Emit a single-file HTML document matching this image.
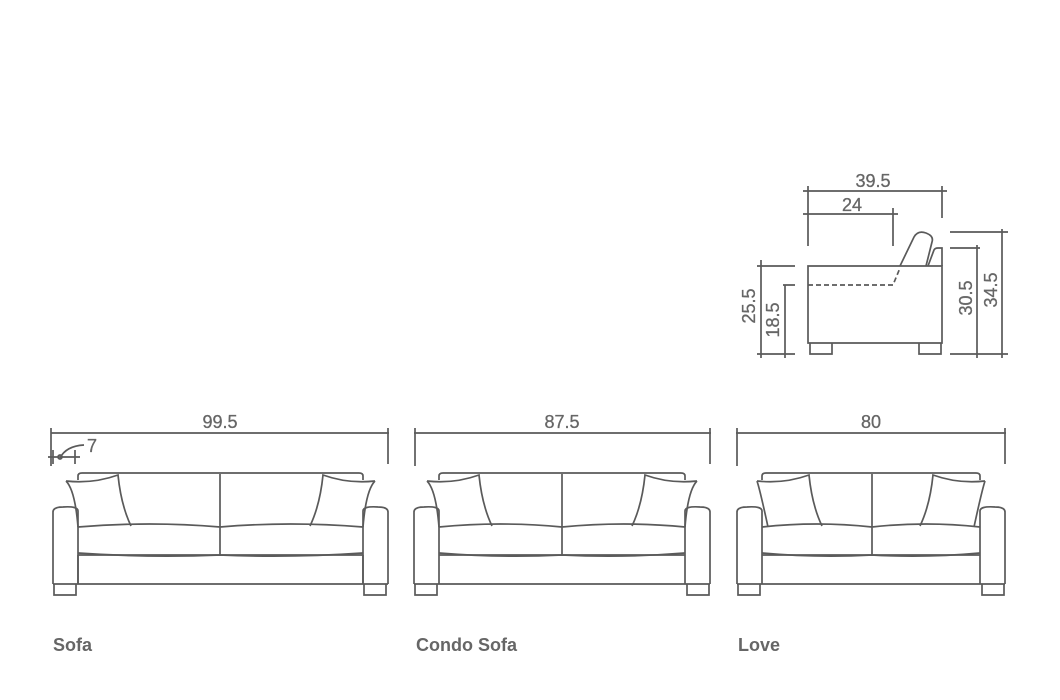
<!DOCTYPE html><html><head><style>body{margin:0;background:#fff}svg{display:block}text{font-family:"Liberation Sans",sans-serif;fill:#666}</style></head><body>
<svg width="1060" height="700" viewBox="0 0 1060 700" xmlns="http://www.w3.org/2000/svg">
<g fill="none" stroke="#5a5a5a" stroke-width="1.7">
<path d="M51 433H389M51 428V466M388 428V464"/>
<path d="M48 457H80M53 450V464M75 450V464M60 458Q66 446 84 445"/>
<circle cx="60" cy="457" r="2"/>
<path d="M53 584V512Q53 507 63 507Q78 506 78 511V584M388 584V512Q388 507 378 507Q363 506 363 511V584"/>
<path d="M78 480V476Q78 473 82 473H359Q363 473 363 476V480"/>
<path d="M78 555H363M53 584H388M78 584V555M363 584V555"/>
<path d="M78 527Q150 521 220 527Q290 521 363 527M78 553Q150 558 220 555Q290 558 363 553M220 474V555"/>
<path d="M66 481Q93 484 118 475Q121 505 131 526M66 481Q75 490 78 527"/>
<path d="M375 481Q348 484 323 475Q320 505 310 526M375 481Q366 490 363 527"/>
<path d="M54 584V595H76V584M364 584V595H386V584"/>
<path d="M414 433H711M415 428V466M710 428V464"/>
<path d="M414 584V512Q414 507 424 507Q439 506 439 511V584M710 584V512Q710 507 700 507Q685 506 685 511V584"/>
<path d="M439 480V476Q439 473 443 473H681Q685 473 685 476V480"/>
<path d="M439 555H685M414 584H710"/>
<path d="M439 527Q500 521 562 527Q624 521 685 527M439 553Q500 558 562 555Q624 558 685 553M562 474V555"/>
<path d="M427 481Q454 484 479 475Q482 505 492 526M427 481Q436 490 439 527"/>
<path d="M697 481Q670 484 645 475Q642 505 632 526M697 481Q688 490 685 527"/>
<path d="M415 584V595H437V584M687 584V595H709V584"/>
<path d="M736 433H1006M737 428V466M1005 428V464"/>
<path d="M737 584V512Q737 507 747 507Q762 506 762 511V584M1005 584V512Q1005 507 995 507Q980 506 980 511V584"/>
<path d="M762 480V476Q762 473 766 473H976Q980 473 980 476V480"/>
<path d="M762 555H980M737 584H1005"/>
<path d="M762 527Q817 521 872 527Q926 521 980 527M762 553Q817 558 872 555Q926 558 980 553M872 474V555"/>
<path d="M757 481Q784 484 809 475Q812 505 822 526M757 481Q760 490 768 527"/>
<path d="M985 481Q958 484 933 475Q930 505 920 526M985 481Q982 490 974 527"/>
<path d="M738 584V595H760V584M982 584V595H1004V584"/>
<path d="M808 266H942V343H808Z"/>
<path d="M808 285H893L900 268" stroke-dasharray="5 3"/>
<path d="M900 266L914 237Q918 230 926 233Q934 236 932 242L926 266"/>
<path d="M928 266L934 250Q935 248 938 248H942V266"/>
<path d="M810 343V354H832V343M919 343V354H941V343"/>
<path d="M803 191H947M808 186V246M942 186V218"/>
<path d="M803 214H898M893 208V246"/>
<path d="M757 266H795M761 260V358M757 354H795M783 285H795M785 285V358"/>
<path d="M950 232H1008M1002 229V358M950 248H980M977 245V358M950 354H1008"/>
</g>
<g font-size="18" text-anchor="middle" style="font-weight:500" stroke="#666" stroke-width="0.3">
<text x="220" y="428">99.5</text>
<text x="562" y="428">87.5</text>
<text x="871" y="428">80</text>
<text x="873" y="187">39.5</text>
<text x="852" y="211">24</text>
<text transform="translate(755 306) rotate(-90)">25.5</text>
<text transform="translate(779 320) rotate(-90)">18.5</text>
<text transform="translate(972 298) rotate(-90)">30.5</text>
<text transform="translate(997 290) rotate(-90)">34.5</text>
<text x="92" y="452">7</text>
</g>
<g font-size="18" font-weight="bold">
<text x="53" y="651">Sofa</text>
<text x="416" y="651">Condo Sofa</text>
<text x="738" y="651">Love</text>
</g>
</svg>
</body></html>
